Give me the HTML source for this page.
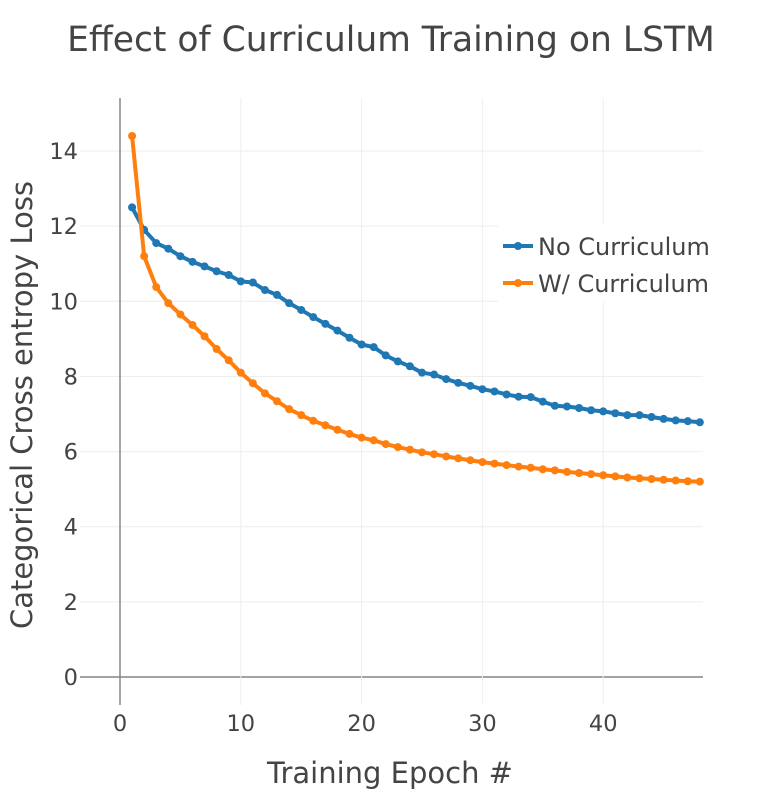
<!DOCTYPE html>
<html><head><meta charset="utf-8"><style>
body{margin:0;background:#fff;}
svg text{font-family:"DejaVu Sans","Liberation Sans",sans-serif;fill:#444;}
</style></head><body>
<svg id="chart" width="783" height="792">
<defs><clipPath id="lc"><rect x="0" y="0" width="710" height="792"/></clipPath></defs>
<text x="391" y="51" text-anchor="middle" font-size="34.5">Effect of Curriculum Training on LSTM</text>
<g id="grid"></g>
<g id="axes"></g>
<g id="series"></g>
<text x="390" y="783" text-anchor="middle" font-size="29">Training Epoch #</text>
<text transform="translate(32,405) rotate(-90)" text-anchor="middle" font-size="29">Categorical Cross entropy Loss</text>
<g clip-path="url(#lc)">
<rect x="498" y="225" width="212" height="77" fill="#fff"/>
<line x1="503" y1="246" x2="533" y2="246" stroke="#1f77b4" stroke-width="4"/><circle cx="518" cy="246" r="4" fill="#1f77b4"/>
<text x="538" y="255" font-size="24">No Curriculum</text>
<line x1="503" y1="283" x2="533" y2="283" stroke="#ff7f0e" stroke-width="4"/><circle cx="518" cy="283" r="4" fill="#ff7f0e"/>
<text x="538" y="292" font-size="24">W/ Curriculum</text>
</g>
</svg>
<script>
const epochs=[];for(let i=1;i<=48;i++)epochs.push(i);
const noCurriculum=[12.5,11.9,11.55,11.4,11.2,11.05,10.93,10.8,10.7,10.53,10.5,10.3,10.17,9.95,9.77,9.58,9.4,9.22,9.03,8.85,8.78,8.56,8.4,8.27,8.1,8.05,7.93,7.83,7.75,7.66,7.6,7.52,7.46,7.45,7.33,7.22,7.2,7.16,7.1,7.07,7.02,6.97,6.97,6.92,6.87,6.83,6.81,6.78];
const withCurriculum=[14.4,11.2,10.38,9.95,9.65,9.37,9.07,8.73,8.43,8.1,7.82,7.55,7.34,7.13,6.97,6.82,6.7,6.58,6.47,6.37,6.3,6.2,6.12,6.05,5.98,5.93,5.87,5.82,5.77,5.72,5.68,5.64,5.6,5.57,5.53,5.5,5.46,5.43,5.4,5.37,5.34,5.31,5.29,5.27,5.25,5.23,5.21,5.2];
const xTicks=[0,10,20,30,40];
const yTicks=[0,2,4,6,8,10,12,14];
const NS="http://www.w3.org/2000/svg";
const L=80,R=703,T=98,B=705;
function xs(v){return 120+v*12.08;}
function ys(v){return 677-v*37.57;}
function mk(t,a,p){const e=document.createElementNS(NS,t);for(const k in a)e.setAttribute(k,a[k]);p.appendChild(e);return e;}
const grid=document.getElementById('grid'),axes=document.getElementById('axes'),ser=document.getElementById('series');
yTicks.forEach(v=>{
 const g=mk('line',{x1:L,x2:R,y1:ys(v),y2:ys(v),stroke:v===0?'#444':'#eee','stroke-width':1},grid);
 
 
 const t=mk('text',{x:78,y:ys(v)+8,'text-anchor':'end','font-size':22.5},axes);t.textContent=v;
 
 
});
xTicks.forEach(v=>{
 if(v!==0){const g=mk('line',{x1:xs(v),x2:xs(v),y1:T,y2:B,stroke:'#eee','stroke-width':1},grid);
 
 }
 const t=mk('text',{x:xs(v),y:731,'text-anchor':'middle','font-size':22.5},axes);t.textContent=v;
 
 
});
const ya=mk('line',{x1:120,x2:120,y1:T,y2:B,stroke:'#888','stroke-width':1.5},axes);


function draw(vals,color,name){
 const pts=vals.map((v,i)=>xs(epochs[i])+','+ys(v)).join(' ');
 const pl=mk('polyline',{points:pts,fill:'none',stroke:color,'stroke-width':4,'stroke-linejoin':'round'},ser);
 
 
 vals.forEach((v,i)=>{const c=mk('circle',{cx:xs(epochs[i]),cy:ys(v),r:4,fill:color},ser);
 
 });
}
draw(noCurriculum,'#1f77b4','no-curriculum');
draw(withCurriculum,'#ff7f0e','w-curriculum');
</script>
</body></html>
